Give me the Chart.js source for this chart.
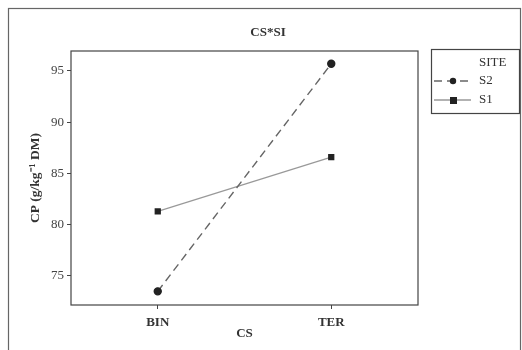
<!DOCTYPE html>
<html>
<head>
<meta charset="utf-8">
<script src="https://cdn.jsdelivr.net/npm/chart.js@4.4.1/dist/chart.umd.min.js"></script>
<style>
	html, body { margin: 0; padding: 0; background: #fff; }
	#wrap { width: 522px; height: 350px; position: relative; }
</style>
</head>
<body>
<div id="wrap"><canvas id="chart-cs-si"></canvas></div>
<script>
// Data
const CATEGORIES = ["BIN", "TER"];
const S2_VALUES = [73.5, 95.7];
const S1_VALUES = [81.3, 86.6];
const Y_TICKS = [75, 80, 85, 90, 95];

const FONT = "'Liberation Serif', 'Times New Roman', serif";
const INK = "#333";

// Outer frame, plot box, title and the SITE legend
const framePlugin = {
	id: "frame",
	afterDraw(chart) {
		const { ctx, chartArea } = chart;
		ctx.save();
		ctx.strokeStyle = "#666";
		ctx.lineWidth = 1.2;
		ctx.strokeRect(8.5, 8.5, 512, 350);
		ctx.strokeStyle = "#444";
		ctx.strokeRect(chartArea.left, chartArea.top, chartArea.right - chartArea.left, chartArea.bottom - chartArea.top);

		// title
		ctx.fillStyle = INK;
		ctx.font = "bold 13px " + FONT;
		ctx.textAlign = "center";
		ctx.textBaseline = "middle";
		ctx.fillText("CS*SI", 268, 33);

		// legend
		const lx = 431, ly = 49, lw = 88, lh = 64;
		ctx.strokeStyle = "#444";
		ctx.lineWidth = 1.2;
		ctx.strokeRect(lx + 0.5, ly + 0.5, lw, lh);
		ctx.font = "13px " + FONT;
		ctx.textAlign = "left";
		ctx.fillText("SITE", lx + 48, ly + 14);
		chart.data.datasets.forEach((ds, i) => {
			const y = ly + 32 + i * 19;
			ctx.strokeStyle = ds.borderColor;
			ctx.lineWidth = ds.borderWidth;
			ctx.setLineDash(ds.borderDash || []);
			ctx.beginPath();
			ctx.moveTo(lx + 3, y);
			ctx.lineTo(lx + 40, y);
			ctx.stroke();
			ctx.setLineDash([]);
			ctx.fillStyle = "#222";
			if (ds.pointStyle === "rect") {
				ctx.fillRect(lx + 19, y - 3, 7, 7);
			} else {
				ctx.beginPath();
				ctx.arc(lx + 22, y, 3.2, 0, Math.PI * 2);
				ctx.fill();
			}
			ctx.fillStyle = INK;
			ctx.fillText(ds.label, lx + 48, y);
		});
		ctx.restore();
	},
};

const CHART_DATA = {
	labels: CATEGORIES,
	datasets: [
		{
			label: "S2",
			data: S2_VALUES,
			borderColor: "#666",
			borderWidth: 1.4,
			borderDash: [8, 5],
			pointStyle: "circle",
			pointRadius: 3.5,
			pointBackgroundColor: "#222",
			pointBorderColor: "#222",
		},
		{
			label: "S1",
			data: S1_VALUES,
			borderColor: "#999",
			borderWidth: 1.3,
			pointStyle: "rect",
			pointRadius: 3.5,
			pointBackgroundColor: "#222",
			pointBorderColor: "#222",
		},
	],
};

const CHART_CONFIG = {
	type: "line",
	data: CHART_DATA,
	options: {
		responsive: true,
		maintainAspectRatio: false,
		animation: false,
		layout: {
			padding: { left: 0, right: 104, top: 51, bottom: 0 },
		},
		scales: {
			x: {
				offset: true,
				border: { display: false },
				grid: {
					display: true,
					drawOnChartArea: false,
					offset: false,
					tickLength: 4,
					color: "#444",
				},
				ticks: {
					color: INK,
					padding: 6,
					font: { family: FONT, size: 13, weight: "bold" },
				},
				title: {
					display: true,
					text: "CS",
					color: INK,
					padding: { top: 0, bottom: 9 },
					font: { family: FONT, size: 13, weight: "bold" },
				},
				afterFit: (scale) => { scale.height = 45; },
			},
			y: {
				min: 72.17,
				max: 96.95,
				border: { display: false },
				grid: {
					drawOnChartArea: false,
					tickLength: 4,
					color: "#444",
				},
				afterBuildTicks: (scale) => { scale.ticks = Y_TICKS.map((v) => ({ value: v })); },
				ticks: {
					color: "#444",
					padding: 3,
					font: { family: FONT, size: 13 },
				},
				title: {
					display: true,
					text: "CP (g/kg\u207B\u00B9 DM)",
					color: INK,
					padding: { top: 27, bottom: 0 },
					font: { family: FONT, size: 13.5, weight: "bold" },
				},
				afterFit: (scale) => { scale.width = 71; },
			},
		},
		plugins: {
			legend: { display: false },
			tooltip: { enabled: false },
			title: { display: false },
		},
	},
	plugins: [framePlugin],
};

new Chart(document.getElementById("chart-cs-si"), CHART_CONFIG);
</script>
</body>
</html>
